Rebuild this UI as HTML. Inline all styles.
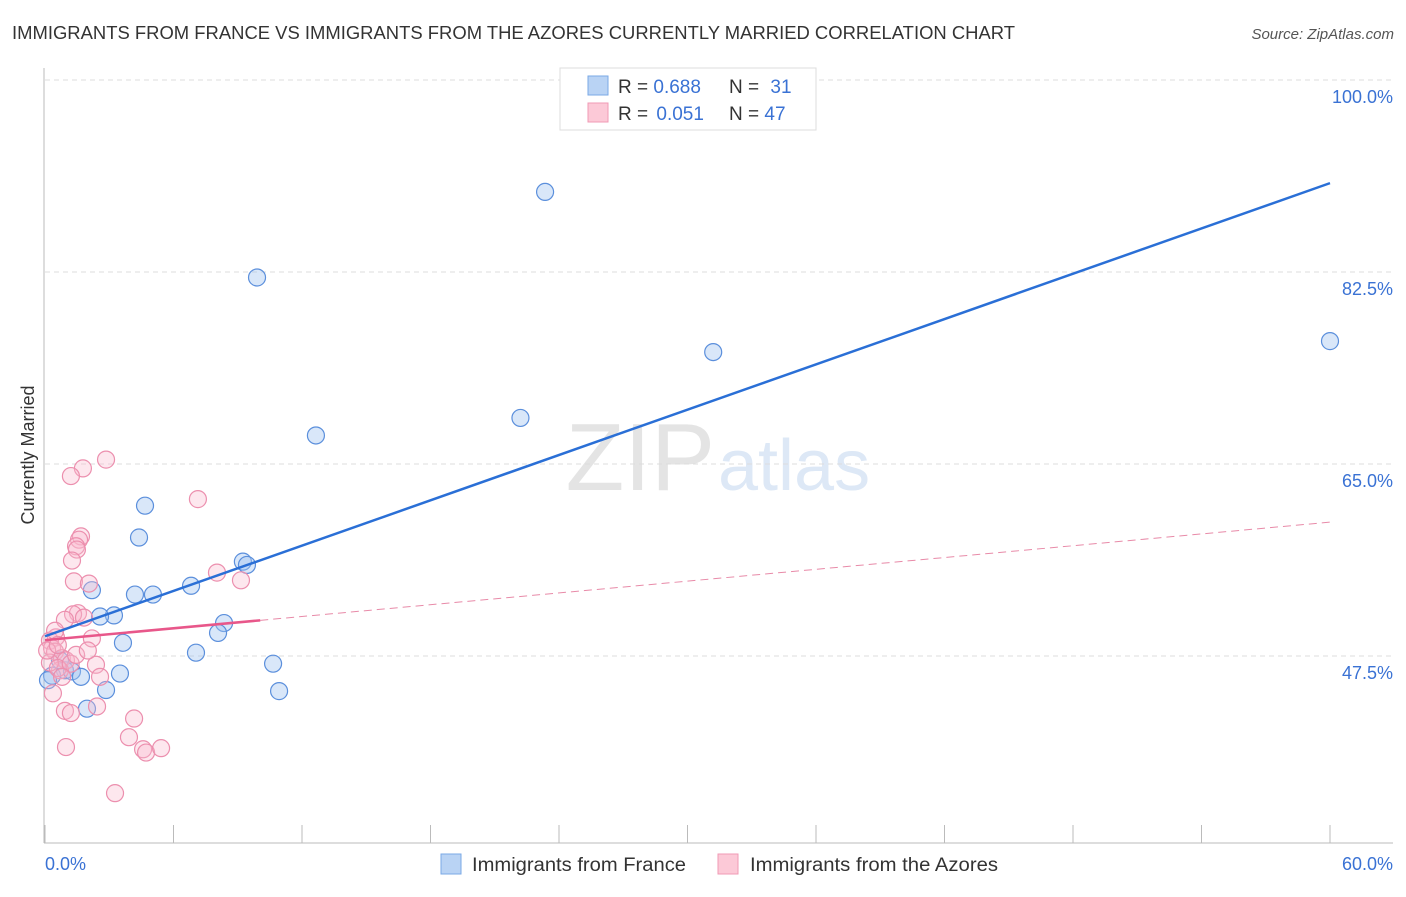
<!DOCTYPE html>
<html><head><meta charset="utf-8"><style>
body{margin:0;background:#fff;font-family:"Liberation Sans",sans-serif;}
svg text{font-family:"Liberation Sans",sans-serif;}
</style></head><body>
<svg width="1406" height="892" viewBox="0 0 1406 892">
<text x="12" y="39" font-size="18" fill="#333" textLength="1003" lengthAdjust="spacingAndGlyphs">IMMIGRANTS FROM FRANCE VS IMMIGRANTS FROM THE AZORES CURRENTLY MARRIED CORRELATION CHART</text>
<text x="1394" y="39" font-size="15" fill="#555" font-style="italic" text-anchor="end">Source: ZipAtlas.com</text>
<text x="715" y="490" font-size="96" fill="#e4e4e4" text-anchor="end" font-family="Liberation Serif">ZIP</text>
<text x="718" y="490" font-size="72" fill="#dde8f6">atlas</text>
<g id="grid"></g><g id="axes"></g><g id="marks"></g>
<text transform="translate(34,455) rotate(-90)" font-size="18" fill="#333" text-anchor="middle">Currently Married</text>
<g>
<rect x="560" y="68" width="256" height="62" fill="#fff" stroke="#ddd"/>
<rect x="588" y="76" width="20" height="19" fill="#b9d3f4" stroke="#7aa8e6"/>
<rect x="588" y="103" width="20" height="19" fill="#fcc9d7" stroke="#f09ab4"/>
<text x="618" y="93" font-size="19" fill="#333">R = <tspan fill="#3a72d4">0.688</tspan></text>
<text x="729" y="93" font-size="19" fill="#333">N = <tspan fill="#3a72d4" dx="6">31</tspan></text>
<text x="618" y="120" font-size="19" fill="#333">R = <tspan fill="#3a72d4" dx="3">0.051</tspan></text>
<text x="729" y="120" font-size="19" fill="#333">N = <tspan fill="#3a72d4">47</tspan></text>
</g>
<g>
<rect x="441" y="854" width="20" height="20" fill="#b9d3f4" stroke="#7aa8e6"/>
<text x="472" y="871" font-size="19" fill="#333" textLength="214" lengthAdjust="spacingAndGlyphs">Immigrants from France</text>
<rect x="718" y="854" width="20" height="20" fill="#fcc9d7" stroke="#f09ab4"/>
<text x="750" y="871" font-size="19" fill="#333" textLength="248" lengthAdjust="spacingAndGlyphs">Immigrants from the Azores</text>
</g>
</svg>
<script>
const yTicks=[100,82.5,65,47.5];
const yTickLabels=["100.0%","82.5%","65.0%","47.5%"];
const xEndLabels=["0.0%","60.0%"];
const franceX=[23.35,9.9,31.2,60,22.2,12.65,4.67,4.39,9.24,9.43,6.82,2.19,4.2,5.04,3.22,2.57,8.36,8.08,3.64,7.05,10.65,0.93,1.26,1.68,3.5,0.33,2.85,10.93,1.96,0.7,0.14];
const franceY=[89.8,82.0,75.2,76.2,69.2,67.6,61.2,58.3,56.1,55.8,53.9,53.5,53.1,53.1,51.2,51.1,50.5,49.6,48.7,47.8,46.8,46.2,46.1,45.6,45.9,45.7,44.4,44.3,42.7,47.1,45.3];
const azoresX=[2.85,1.77,1.21,7.14,1.68,1.59,1.45,1.49,1.26,1.35,2.05,8.03,9.15,1.54,1.31,1.82,0.93,2.19,0.51,0.23,0.33,0.47,0.79,0.98,2.38,0.7,2.57,0.23,0.37,0.93,1.21,2.43,4.16,3.92,0.98,4.58,4.72,5.42,3.27,0.6,0.1,1.2,0.8,1.45,0.47,2.0,0.6];
const azoresY=[65.4,64.6,63.9,61.8,58.4,58.1,57.5,57.2,56.2,54.3,54.1,55.1,54.4,51.4,51.3,51.0,50.8,49.1,49.2,48.9,48.2,47.9,47.3,47.1,46.7,46.2,45.6,46.9,44.1,42.5,42.3,42.9,41.8,40.1,39.2,39.0,38.7,39.1,35.0,46.4,48.0,46.8,45.6,47.6,49.8,48.0,48.5];
const franceTrend=[49.3,90.6];
const azoresTrend=[48.95,59.7];
const azoresSolidEnd=10.05;
const NS='http://www.w3.org/2000/svg';
const xs=v=>45+v/60*1285;
const ys=v=>80+(100-v)/17.5*192;
function mk(t,a,p){const e=document.createElementNS(NS,t);for(const k in a)e.setAttribute(k,a[k]);p.appendChild(e);return e;}
const grid=document.getElementById('grid'),axes=document.getElementById('axes'),marks=document.getElementById('marks');
yTicks.forEach((v,i)=>{
 const l=mk('line',{x1:45,x2:1393,y1:ys(v),y2:ys(v),stroke:'#ddd','stroke-dasharray':'5,4'},grid);
 
 
 const t=mk('text',{x:1393,y:ys(v)+23,'font-size':18,fill:'#3a72d4','text-anchor':'end'},axes);
 t.textContent=yTickLabels[i];
 
 
});
const ya=mk('line',{x1:44,x2:44,y1:68,y2:843,stroke:'#bbb'},axes);


const xa=mk('line',{x1:44,x2:1393,y1:843,y2:843,stroke:'#bbb'},axes);


for(let v=0;v<=60;v+=6){
 const tk=mk('line',{x1:xs(v),x2:xs(v),y1:825,y2:843,stroke:'#bbb'},axes);
 
 
}
[[0,'start',45],[60,'end',1393]].forEach((d,i)=>{
 const t=mk('text',{x:d[2],y:870,'font-size':18,fill:'#3a72d4','text-anchor':d[1]},axes);
 t.textContent=xEndLabels[i];
 
 
});
franceX.forEach((x,i)=>{
 const c=mk('circle',{cx:xs(x),cy:ys(franceY[i]),r:8.5,fill:'rgba(160,195,240,0.4)',stroke:'#5b8fdc','stroke-width':1.2},marks);
 
 
});
azoresX.forEach((x,i)=>{
 const c=mk('circle',{cx:xs(x),cy:ys(azoresY[i]),r:8.5,fill:'rgba(250,185,205,0.35)',stroke:'#ec8fae','stroke-width':1.2},marks);
 
 
});
const az=x=>azoresTrend[0]+(azoresTrend[1]-azoresTrend[0])*x/60;
const pd=mk('line',{x1:xs(azoresSolidEnd),y1:ys(az(azoresSolidEnd)),x2:xs(60),y2:ys(azoresTrend[1]),stroke:'#e88aa8','stroke-width':1,'stroke-dasharray':'8,5'},marks);


const ps=mk('line',{x1:xs(0),y1:ys(azoresTrend[0]),x2:xs(azoresSolidEnd),y2:ys(az(azoresSolidEnd)),stroke:'#e8578a','stroke-width':2.5},marks);


const fl=mk('line',{x1:xs(0),y1:ys(franceTrend[0]),x2:xs(60),y2:ys(franceTrend[1]),stroke:'#2a6fd6','stroke-width':2.5},marks);


</script>
</body></html>
